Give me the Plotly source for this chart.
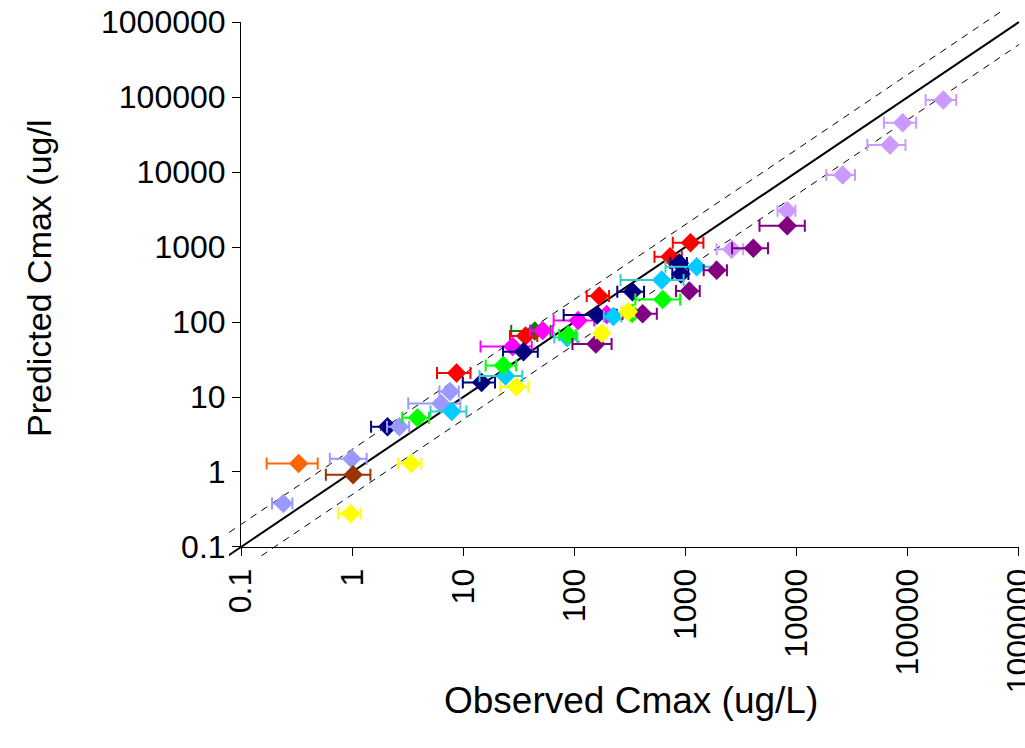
import plotly.graph_objects as go

# Observed vs predicted Cmax (ug/L); error bars are the SD of the observed value.
dkgreen_obs = [44]
dkgreen_pred = [76]
dkgreen_sd = [17]

red_obs = [8.7, 36.3, 167, 725, 1107]
red_pred = [20.9, 65, 222, 743, 1141]
red_sd = [2.9, 10, 38, 200, 340]

magenta_obs = [27.8, 51.8, 108, 195]
magenta_pred = [47, 77, 105, 126]
magenta_sd = [13.5, 12, 43, 40]

navy_obs = [2.08, 14.6, 34.8, 160, 333, 879, 910]
navy_pred = [4.0, 15.6, 40, 124, 254, 612, 437]
navy_sd = [0.6, 4.7, 12, 80, 90, 150, 150]

periwinkle_obs = [0.24, 0.99, 2.66, 6.3, 7.6]
periwinkle_pred = [0.38, 1.5, 4.0, 8.2, 11.8]
periwinkle_sd = [0.05, 0.36, 0.6, 3.1, 1.5]

cyan_obs = [7.87, 24, 86, 224, 610, 1260]
cyan_pred = [6.4, 19.1, 62, 118, 363, 546]
cyan_sd = [2.8, 10, 20, 40, 350, 600]

green_obs = [3.87, 22.9, 88, 330, 623]
green_pred = [5.3, 26.3, 67, 130, 200]
green_sd = [1.05, 7, 15, 60, 270]

lavender_obs = [2602, 8226, 25940, 69180, 89900, 208500]
lavender_pred = [932, 3048, 9120, 22900, 45400, 91200]
lavender_sd = [700, 1500, 7500, 26000, 29000, 64000]

purple_obs = [156, 411, 1081, 1906, 4070, 8226]
purple_pred = [51, 129, 259, 489, 961, 1923]
purple_sd = [60, 140, 260, 450, 1450, 3600]

yellow_obs = [0.97, 3.4, 30, 176, 305]
yellow_pred = [0.28, 1.3, 13.7, 71, 137]
yellow_sd = [0.22, 0.8, 8.5, 20, 40]

orange_obs = [0.33]
orange_pred = [1.3]
orange_sd = [0.16]

brown_obs = [1.02]
brown_pred = [0.92]
brown_sd = [0.44]

tick_vals = [0.1, 1, 10, 100, 1000, 10000, 100000, 1000000]
tick_text = ["0.1", "1", "10", "100", "1000", "10000", "100000", "1000000"]

# reference lines: line of unity and 2-fold bounds
line_x = [0.05, 1000000]
fold = 2

W, H = 1025, 748
# plot box in pixels
PL, PR, PT, PB = 241, 1019, 22, 547
# slightly larger box the reference lines are clipped to
LL, LR, LT, LB = 229, 1025, 11, 557

dec_x = 7 / (PR - PL)
dec_y = 7 / (PB - PT)
EPS = 1e-4  # keeps the end ticks inside the axis range

FONT = "Liberation Sans, Arial, sans-serif"

series = [
    (dkgreen_obs, dkgreen_pred, dkgreen_sd, "#008000", "#008000"),
    (red_obs, red_pred, red_sd, "#FF0000", "#FF0000"),
    (magenta_obs, magenta_pred, magenta_sd, "#FF00FF", "#FF00FF"),
    (navy_obs, navy_pred, navy_sd, "#000080", "#000080"),
    (periwinkle_obs, periwinkle_pred, periwinkle_sd, "#9999FF", "#9999FF"),
    (cyan_obs, cyan_pred, cyan_sd, "#00CCFF", "#33CCCC"),
    (green_obs, green_pred, green_sd, "#00FF00", "#00FF00"),
    (lavender_obs, lavender_pred, lavender_sd, "#CC99FF", "#CC99FF"),
    (purple_obs, purple_pred, purple_sd, "#800080", "#800080"),
    (yellow_obs, yellow_pred, yellow_sd, "#FFFF00", "#FFFF00"),
    (orange_obs, orange_pred, orange_sd, "#FF6600", "#FF6600"),
    (brown_obs, brown_pred, brown_sd, "#993300", "#993300"),
]

fig = go.Figure()

# lines live on their own (hidden) axes so they can run a little past the frame
fig.add_trace(go.Scatter(x=line_x, y=line_x, mode="lines",
                         line=dict(color="black", width=2),
                         xaxis="x", yaxis="y", showlegend=False, hoverinfo="skip"))
fig.add_trace(go.Scatter(x=line_x, y=[v * fold for v in line_x], mode="lines",
                         line=dict(color="black", width=1, dash="7px,6px"),
                         xaxis="x", yaxis="y", showlegend=False, hoverinfo="skip"))
fig.add_trace(go.Scatter(x=line_x, y=[v / fold for v in line_x], mode="lines",
                         line=dict(color="black", width=1, dash="7px,6px"),
                         xaxis="x", yaxis="y", showlegend=False, hoverinfo="skip"))

for obs, pred, sd, mcol, ecol in series:
    fig.add_trace(go.Scatter(
        x=obs, y=pred, mode="markers",
        marker=dict(symbol="diamond", size=15, color=mcol, line=dict(width=0)),
        error_x=dict(type="data", array=sd, visible=True, color=ecol,
                     thickness=2, width=6),
        xaxis="x2", yaxis="y2", showlegend=False,
    ))

axis_common = dict(type="log", showgrid=False, zeroline=False, automargin=False)

fig.update_layout(
    width=W, height=H, autosize=False,
    margin=dict(l=0, r=0, t=0, b=0),
    paper_bgcolor="white", plot_bgcolor="rgba(0,0,0,0)",
    font=dict(family=FONT, color="black"),
    showlegend=False,
    xaxis=dict(**axis_common, visible=False,
               domain=[LL / W, LR / W],
               range=[-1 - (PL - LL) * dec_x, 6 + (LR - PR) * dec_x]),
    yaxis=dict(**axis_common, visible=False,
               domain=[(H - LB) / H, (H - LT) / H],
               range=[-1 - (LB - PB) * dec_y, 6 + (PT - LT) * dec_y]),
    xaxis2=dict(**axis_common, anchor="y2",
                domain=[PL / W, PR / W], range=[-1 - EPS, 6 + EPS],
                showline=True, linecolor="black", linewidth=1,
                ticks="outside", ticklen=8, tickcolor="black", tickwidth=1,
                tickvals=tick_vals, ticktext=tick_text, tickangle=-90,
                ticklabeloverflow="allow",
                tickfont=dict(family=FONT, size=32, color="black")),
    yaxis2=dict(**axis_common, anchor="x2",
                domain=[(H - PB) / H, (H - PT) / H], range=[-1 - EPS, 6 + EPS],
                showline=True, linecolor="black", linewidth=1,
                ticks="outside", ticklen=8, tickcolor="black", tickwidth=1,
                tickvals=tick_vals, ticktext=tick_text,
                ticklabeloverflow="allow",
                tickfont=dict(family=FONT, size=32, color="black")),
    annotations=[
        dict(text="Observed Cmax (ug/L)", xref="paper", yref="paper",
             x=631 / W, y=(H - 700) / H, xanchor="center", yanchor="middle",
             showarrow=False, font=dict(family=FONT, size=37, color="black")),
        dict(text="Predicted Cmax (ug/l", xref="paper", yref="paper",
             x=39 / W, y=(H - 279) / H, xanchor="center", yanchor="middle",
             textangle=-90, showarrow=False,
             font=dict(family=FONT, size=34, color="black")),
    ],
)

fig.write_html("out.html")
